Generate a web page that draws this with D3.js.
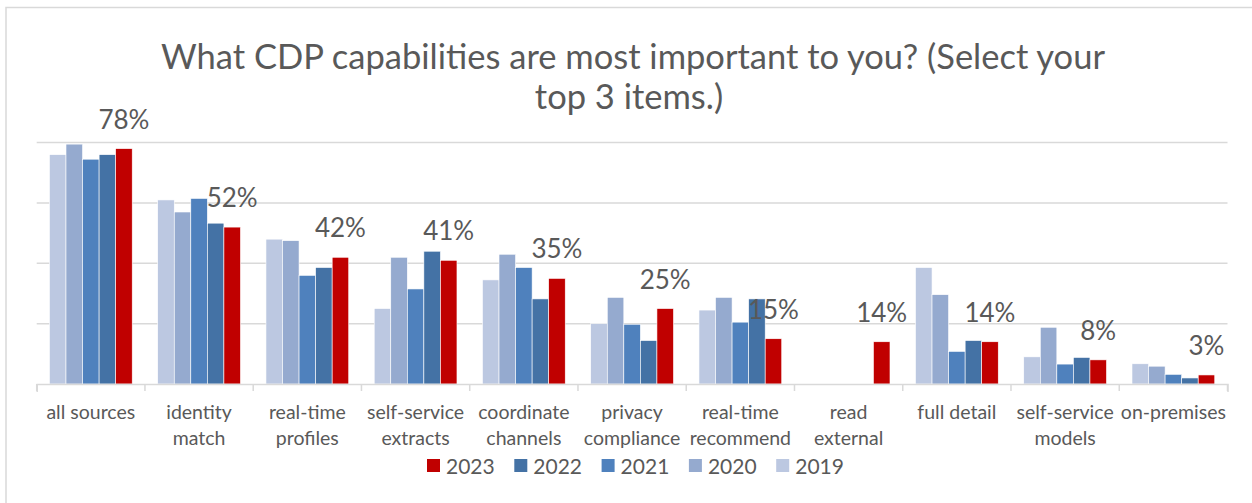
<!DOCTYPE html>
<html>
<head>
<meta charset="utf-8" />
<title>CDP capabilities</title>
<script src="https://cdnjs.cloudflare.com/ajax/libs/d3/7.8.5/d3.min.js"></script>
<style type="text/css">
    body { margin: 0; background: #fff; }
    text { font-family: Lato, "Open Sans", sans-serif; fill: #595959; }
</style>
</head>
<body>
<div id="chart"></div>
<script type="text/javascript">
    // categories (two-line labels split with |)
    var categories = ["all sources", "identity|match", "real-time|profiles", "self-service|extracts",
        "coordinate|channels", "privacy|compliance", "real-time|recommend", "read|external",
        "full detail", "self-service|models", "on-premises"];
    var years = ["2019", "2020", "2021", "2022", "2023"];
    var colors = ["#BCC8E1", "#95AACF", "#4F81BD", "#4472A5", "#C00000"];

    // percent values, null = no answer that year
    var v2019 = [76, 61, 48, 25, 34.5, 20, 24.5, null, 38.6, 9, 6.7];
    var v2020 = [79.5, 57, 47.5, 42, 43, 28.7, 28.7, null, 29.6, 18.8, 5.9];
    var v2021 = [74.5, 61.5, 36, 31.5, 38.6, 19.8, 20.5, null, 10.8, 6.6, 3.2];
    var v2022 = [76, 53.3, 38.6, 44, 28.2, 14.4, 28.2, null, 14.4, 8.8, 2];
    var v2023 = [78, 52, 42, 41, 35, 25, 15, 14, 14, 8, 3];
    var series = [v2019, v2020, v2021, v2022, v2023];
    var yTicks = [0, 20, 40, 60, 80];

    var width = 1252, height = 503;
    var svg = d3.select("#chart").append("svg")
        .attr("width", width)
        .attr("height", height);

    // outer chart border (only top/left visible)
    svg.append("path")
        .attr("d", "M6,503 L6,7.5 L1252,7.5")
        .attr("fill", "none")
        .attr("stroke", "#D9D9D9")
        .attr("stroke-width", 1.5);

    var plot = { left: 36.7, right: 1227.5, top: 142.6, bottom: 384 };

    var x0 = d3.scaleBand().domain(categories).range([plot.left, plot.right]);
    var x1 = d3.scaleBand().domain(years).range([0, x0.bandwidth()]).paddingOuter(0.77);
    var y = d3.scaleLinear().domain([0, 80]).range([plot.bottom, plot.top]);

    // gridlines
    svg.selectAll(".grid")
        .data(yTicks.slice(1))
        .enter()
        .append("line")
        .attr("x1", plot.left)
        .attr("x2", plot.right)
        .attr("y1", function (d) { return y(d); })
        .attr("y2", function (d) { return y(d); })
        .attr("stroke", "#D9D9D9")
        .attr("stroke-width", 1.5);

    // bars
    var groups = svg.selectAll(".grp")
        .data(categories)
        .enter()
        .append("g")
        .attr("transform", function (d) { return "translate(" + x0(d) + ",0)"; });

    groups.selectAll("rect")
        .data(function (d, i) {
            return years.map(function (yr, j) { return { year: yr, j: j, v: series[j][i] }; })
                .filter(function (e) { return e.v !== null; });
        })
        .enter()
        .append("rect")
        .attr("x", function (d) { return x1(d.year); })
        .attr("y", function (d) { return y(d.v); })
        .attr("width", x1.bandwidth())
        .attr("height", function (d) { return y(0) - y(d.v); })
        .attr("fill", function (d) { return colors[d.j]; })
        .attr("stroke", "#fff")
        .attr("stroke-width", 0.6);

    // data labels for 2023
    groups.append("text")
        .attr("x", x1("2023") + x1.bandwidth() / 2)
        .attr("y", function (d, i) { return y(v2023[i]) - 20; })
        .attr("text-anchor", "middle")
        .attr("font-size", "26px")
        .text(function (d, i) { return v2023[i] + "%"; });

    // x axis
    var xAxis = d3.axisBottom(x0).tickSize(8).tickFormat("");
    var axisG = svg.append("g")
        .attr("transform", "translate(0," + plot.bottom + ")")
        .call(xAxis);
    axisG.select(".domain").attr("stroke", "#D9D9D9").attr("stroke-width", 1.5);
    axisG.selectAll(".tick line").remove();
    // tick marks between categories
    axisG.selectAll(".sep")
        .data(d3.range(categories.length + 1))
        .enter()
        .append("line")
        .attr("x1", function (d) { return plot.left + d * x0.step(); })
        .attr("x2", function (d) { return plot.left + d * x0.step(); })
        .attr("y1", 0)
        .attr("y2", 7)
        .attr("stroke", "#D9D9D9")
        .attr("stroke-width", 1.5);

    svg.selectAll(".catlabel")
        .data(categories)
        .enter()
        .append("text")
        .attr("text-anchor", "middle")
        .attr("font-size", "19.5px")
        .attr("x", function (d) { return x0(d) + x0.bandwidth() / 2; })
        .attr("y", 419)
        .each(function (d) {
            var t = d3.select(this);
            d.split("|").forEach(function (line, k) {
                t.append("tspan")
                    .attr("x", t.attr("x"))
                    .attr("dy", k === 0 ? 0 : 25.5)
                    .text(line);
            });
        });

    // title
    svg.append("text")
        .attr("x", 633)
        .attr("y", 69)
        .attr("text-anchor", "middle")
        .attr("font-size", "34.5px")
        .text("What CDP capabilities are most important to you? (Select your");
    svg.append("text")
        .attr("x", 629)
        .attr("y", 109)
        .attr("text-anchor", "middle")
        .attr("font-size", "34.5px")
        .text("top 3 items.)");

    // legend (reverse order)
    var legendOrder = [4, 3, 2, 1, 0];
    var leg = svg.selectAll(".leg")
        .data(legendOrder)
        .enter()
        .append("g")
        .attr("transform", function (d, i) { return "translate(" + (427 + i * 87.3) + ",459)"; });
    leg.append("rect")
        .attr("width", 13)
        .attr("height", 13)
        .attr("fill", function (d) { return colors[d]; });
    leg.append("text")
        .attr("x", 19)
        .attr("y", 15)
        .attr("font-size", "21px")
        .text(function (d) { return years[d]; });
</script>
</body>
</html>
